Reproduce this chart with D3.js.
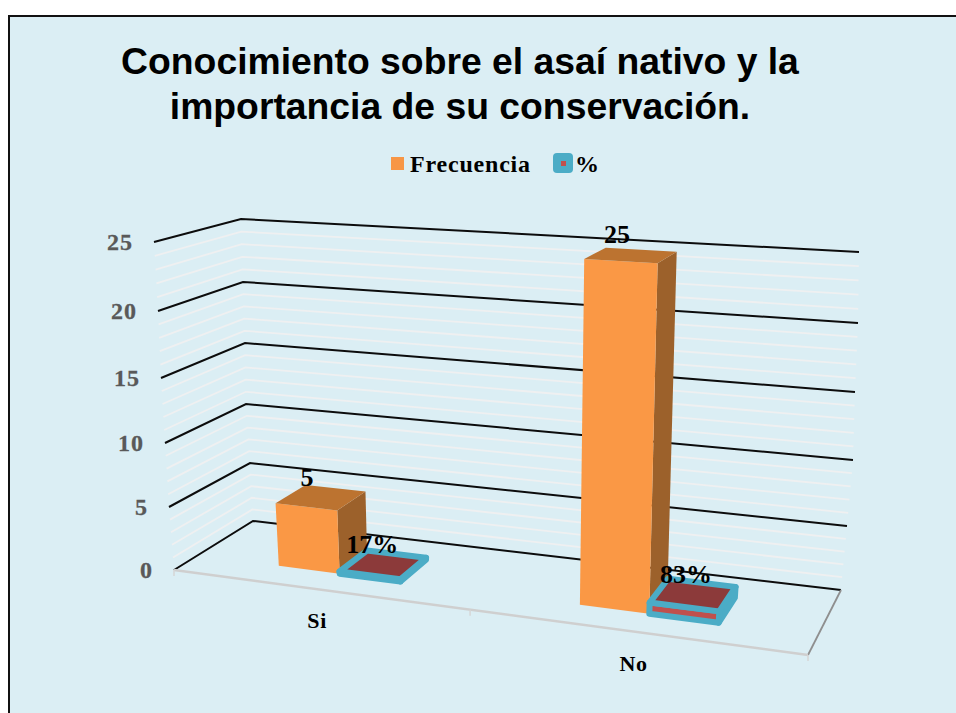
<!DOCTYPE html>
<html><head><meta charset="utf-8">
<script src="https://cdn.jsdelivr.net/npm/d3@7/dist/d3.min.js"></script>
<style>html,body{margin:0;padding:0;background:#fff;overflow:hidden}svg{display:block}</style>
</head><body><svg id="c" width="956" height="713"></svg>
<script>
const categories = ["Si", "No"];
const seriesNames = ["Frecuencia", "%"];
const frecuencia = [5, 25];
const porcentaje = [0.17, 0.83];
const levelTicks = [0, 5, 10, 15, 20, 25];
const titleLines = ["Conocimiento sobre el asaí nativo y la", "importancia de su conservación."];

const serif = "'Liberation Serif', serif";
const svg = d3.select("#c");

// frame
svg.append("rect").attr("x", 9).attr("y", 16).attr("width", 960).attr("height", 720)
  .attr("fill", "#DBEEF4").attr("stroke", "#111").attr("stroke-width", 2);

// title
svg.append("g").selectAll("text").data(titleLines).join("text")
  .attr("x", 460).attr("y", (d, i) => 74 + i * 45).attr("text-anchor", "middle")
  .attr("font-family", "'Liberation Sans', Arial, sans-serif").attr("font-weight", "bold")
  .attr("font-size", 37.3).attr("fill", "#000").text(d => d);

// perspective box: one scale per vertical edge of the plot cube
const edge = (xs, ys) => ({
  x: d3.scaleLinear().domain(levelTicks).range(xs),
  y: d3.scaleLinear().domain(levelTicks).range(ys)
});
const frontLeft  = edge([174, 169, 165, 161, 158, 154], [570, 507, 443, 378, 311, 242]);
const backLeft   = edge([253, 250, 246, 245, 243, 241], [521, 463, 404, 343, 282, 219]);
const backRight  = edge([841, 847, 853, 855, 858, 859], [590, 526, 460, 392, 323, 252]);
const frontRight = edge([808, 812, 815, 819, 822, 826], [655, 583.5, 511, 437, 361, 283]);

// horizontal foreshortening of the category axis
const warp = d3.scaleLinear().domain([0, 0.5, 1]).range([0, 0.467, 1]);

function project(t, depth, v) {
  const u = warp(t);
  const mix = k => (1 - u) * (1 - depth) * frontLeft[k](v) + u * (1 - depth) * frontRight[k](v)
                 + (1 - u) * depth * backLeft[k](v) + u * depth * backRight[k](v);
  return [mix("x"), mix("y")];
}
const line = d3.line();
const poly = pts => line(pts) + "Z";

// gridlines
const gridLevels = d3.range(0, 26);
const grid = svg.append("g").attr("fill", "none");
gridLevels.filter(v => v % 5).forEach(v => {
  grid.append("path")
    .attr("d", line([[frontLeft.x(v), frontLeft.y(v)], [backLeft.x(v), backLeft.y(v)], [backRight.x(v), backRight.y(v)]]))
    .attr("stroke", "#EFF0F1").attr("stroke-width", 1.8);
});
levelTicks.forEach(v => {
  grid.append("path")
    .attr("d", line([[frontLeft.x(v), frontLeft.y(v)], [backLeft.x(v), backLeft.y(v)], [backRight.x(v), backRight.y(v)]]))
    .attr("stroke", "#0c0c0c").attr("stroke-width", 2);
});

// floor
const floor = svg.append("g").attr("fill", "none");
floor.append("path").attr("d", line([[frontRight.x(0), frontRight.y(0)], [backRight.x(0), backRight.y(0)]]))
  .attr("stroke", "#8f8f8f").attr("stroke-width", 1.8);
floor.append("path").attr("d", line([[frontLeft.x(0), frontLeft.y(0)], [frontRight.x(0), frontRight.y(0)]]))
  .attr("stroke", "#CFCFCF").attr("stroke-width", 2.5);
[0, 0.5, 1].forEach(t => {
  const p = project(t, 0, 0);
  floor.append("path").attr("d", line([p, [p[0], p[1] + 6]])).attr("stroke", "#D6D6D6").attr("stroke-width", 1.5);
});

// level labels
svg.append("g").selectAll("text").data(levelTicks).join("text")
  .attr("x", d => frontLeft.x(d) - 21).attr("y", d => frontLeft.y(d) + 8)
  .attr("text-anchor", "end").attr("font-family", serif).attr("font-weight", "bold")
  .attr("font-size", 24).attr("letter-spacing", 1).attr("fill", "#595959")
  .attr("stroke", "#595959").attr("stroke-width", 0.3).text(d => d);

// bars
const band = d3.scaleBand().domain(categories).range([-0.005, 0.995]).paddingInner(0.58).paddingOuter(0.29);
const inner = d3.scaleBand().domain(seriesNames).range([0, band.bandwidth()]);
const depth0 = 0.3, depth1 = 0.7;

function drawBar(g, cat, name, v, style) {
  const t0 = band(cat) + inner(name), t1 = t0 + inner.bandwidth();
  const P = (t, d, lv) => project(t, d, lv);
  const faces = [
    [[P(t1, depth0, 0), P(t1, depth1, 0), P(t1, depth1, v), P(t1, depth0, v)], style.side],
    [[P(t0, depth0, 0), P(t1, depth0, 0), P(t1, depth0, v), P(t0, depth0, v)], style.front],
    [[P(t0, depth0, v), P(t1, depth0, v), P(t1, depth1, v), P(t0, depth1, v)], style.top]
  ];
  faces.forEach(([pts, fill]) => {
    g.append("path").attr("d", poly(pts)).attr("fill", fill)
      .attr("stroke", style.stroke || "none").attr("stroke-width", style.width || 0)
      .attr("stroke-linejoin", "round");
  });
}
const orange = { front: "#FA9845", top: "#BC7330", side: "#9C612B" };
const teal = { front: "#C0504D", top: "#8C3A3A", side: "#96403D", stroke: "#4BACC6", width: 6 };
const bars = svg.append("g");
categories.forEach((c, i) => {
  drawBar(bars, c, "Frecuencia", frecuencia[i], orange);
  drawBar(bars, c, "%", porcentaje[i], teal);
});

// value labels
const valueLabel = (c, name, v, text, dx) => {
  const t = band(c) + inner(name) + inner.bandwidth() / 2;
  const p = project(t, (depth0 + depth1) / 2, v);
  svg.append("text").attr("x", p[0] + dx).attr("y", p[1] - 12).attr("text-anchor", "middle")
    .attr("font-family", serif).attr("font-weight", "bold").attr("font-size", 26)
    .attr("fill", "#000").text(text);
};
const pct = d3.format(".0%");
const percentLabelDx = [-11, -7];
categories.forEach((c, i) => {
  valueLabel(c, "Frecuencia", frecuencia[i], frecuencia[i], -14);
  valueLabel(c, "%", porcentaje[i], pct(porcentaje[i]), percentLabelDx[i]);
});

// category labels
svg.append("g").selectAll("text").data(categories).join("text")
  .attr("x", d => project(band(d) + band.bandwidth() / 2, 0, 0)[0] - 2)
  .attr("y", d => project(band(d) + band.bandwidth() / 2, 0, 0)[1] + 39)
  .attr("text-anchor", "middle").attr("font-family", serif).attr("font-weight", "bold")
  .attr("font-size", 22).attr("letter-spacing", 0.6).attr("fill", "#000").text(d => d);

// legend
const legend = svg.append("g");
legend.append("rect").attr("x", 391).attr("y", 157).attr("width", 13).attr("height", 13).attr("fill", "#F79646");
legend.append("rect").attr("x", 553).attr("y", 153).attr("width", 20).attr("height", 20).attr("rx", 4).attr("fill", "#4BACC6");
legend.append("rect").attr("x", 561).attr("y", 161).attr("width", 5).attr("height", 5).attr("fill", "#C0504D");
legend.selectAll("text").data(seriesNames).join("text")
  .attr("x", (d, i) => [410, 575][i]).attr("y", 171.5)
  .attr("font-family", serif).attr("font-weight", "bold").attr("font-size", 24)
  .attr("letter-spacing", 0.8).attr("fill", "#000").text(d => d);
</script></body></html>
